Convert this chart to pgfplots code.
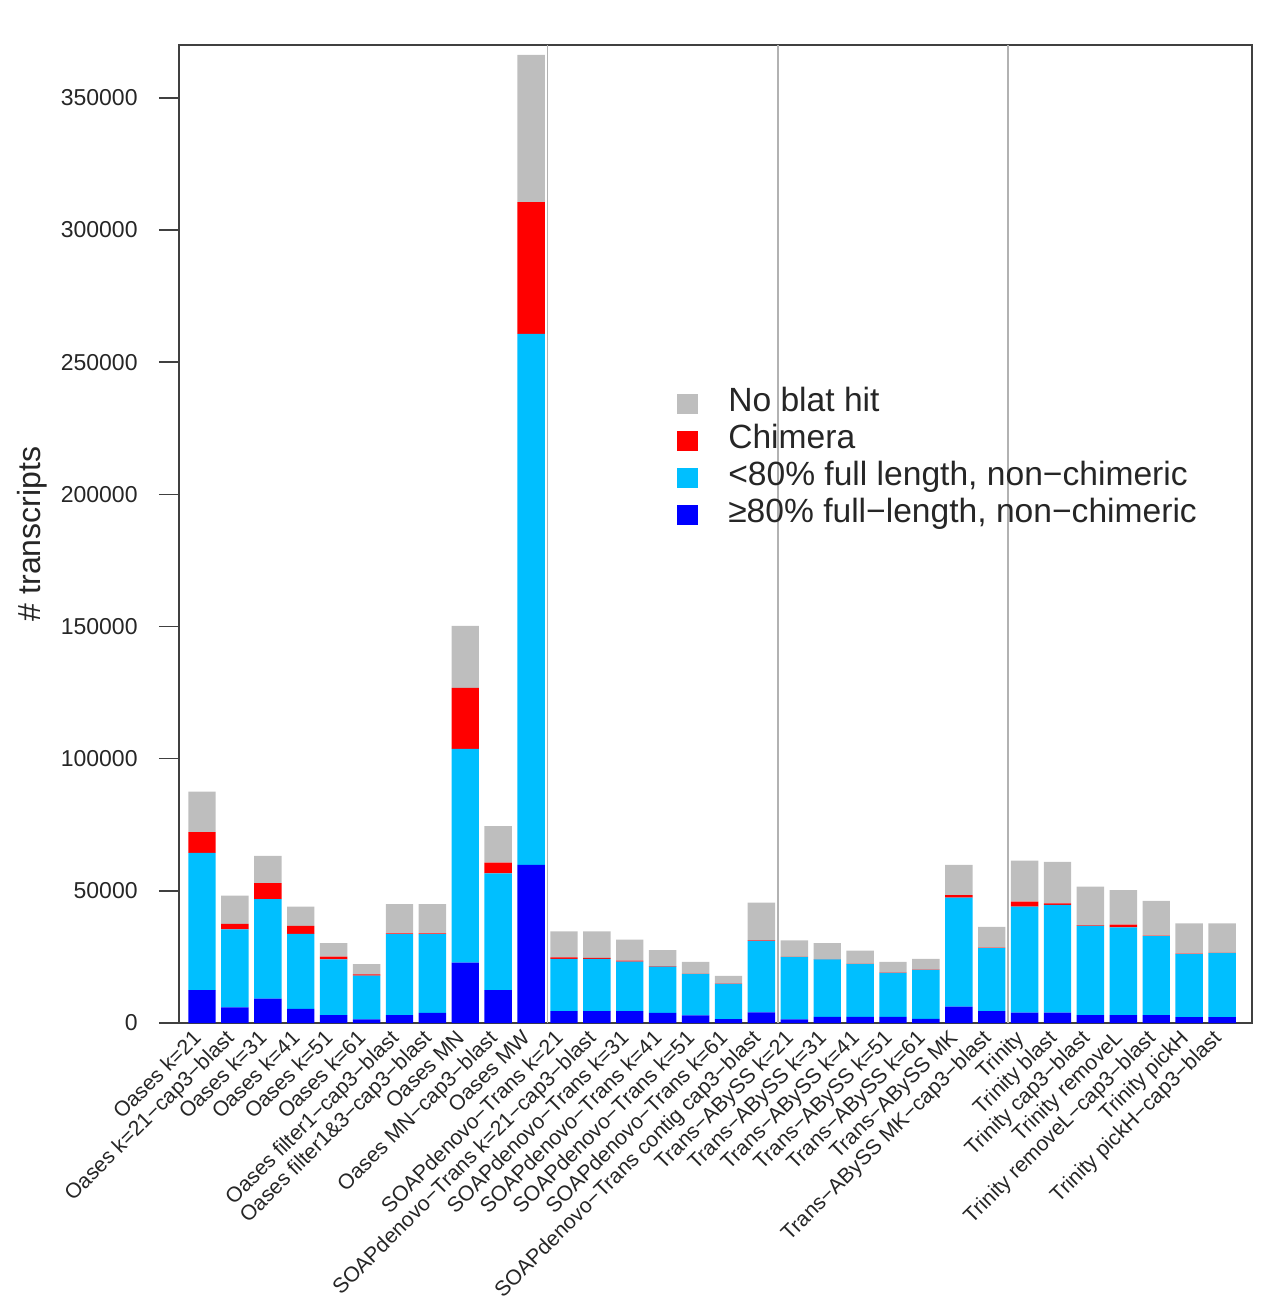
\documentclass[border=0pt]{standalone}
\usepackage{pgfplots}
\pgfplotsset{compat=1.18}
\usepackage{pgfplotstable}
\usepackage{fontspec}
\setmainfont{Liberation Sans}
\definecolor{cNB}{HTML}{BEBEBE}
\definecolor{cCH}{HTML}{FF0000}
\definecolor{cLB}{HTML}{00BFFF}
\definecolor{cDB}{HTML}{0000FF}
\pgfplotstableread{
x db lb ch nb
0 12400 52000 7800 15300
1 5900 29500 2100 10700
2 9200 37700 6000 10300
3 5300 28400 3000 7300
4 3000 21100 1000 5100
5 1400 16500 500 3900
6 3000 30600 300 11100
7 3800 29800 300 11100
8 22800 80900 23100 23400
9 12400 44200 4100 13800
10 59800 200900 49900 55700
11 4500 19800 500 9900
12 4500 19800 300 10100
13 4500 18700 400 7900
14 3800 17500 200 6100
15 2900 15600 100 4500
16 1500 13300 100 2900
17 4000 27100 200 14200
18 1400 23500 100 6300
19 2300 21800 100 6000
20 2300 20000 100 5000
21 2300 16700 100 4000
22 1600 18500 100 4100
23 6200 41200 1000 11400
24 4500 23800 200 7900
25 3900 40100 1900 15500
26 3900 40800 600 15700
27 3000 33700 200 14700
28 3000 33200 1000 13100
29 3000 29900 200 13100
30 2200 23900 100 11500
31 2200 24200 100 11200
}\data
\begin{document}
\begin{tikzpicture}
\path[use as bounding box] (0,0) rectangle (630.5pt,651.5pt);
\begin{axis}[
  at={(89.5pt,140pt)}, anchor=south west,
  width=536.5pt, height=489pt, scale only axis,
  ybar stacked, bar width=0.833,
  xmin=-0.70, xmax=31.91, ymin=0, ymax=370000,
  axis line style={black!75, line width=0.8pt},
  tick align=outside, major tick length=10pt,
  tick style={black!75, line width=0.8pt},
  xtick={0,...,31},
  xtick style={draw=none},
  xticklabels={{Oases k=21},{Oases k=21−cap3−blast},{Oases k=31},{Oases k=41},{Oases k=51},{Oases k=61},{Oases filter1−cap3−blast},{Oases filter1\&3−cap3−blast},{Oases MN},{Oases MN−cap3−blast},{Oases MW},{SOAPdenovo−Trans k=21},{SOAPdenovo−Trans k=21−cap3−blast},{SOAPdenovo−Trans k=31},{SOAPdenovo−Trans k=41},{SOAPdenovo−Trans k=51},{SOAPdenovo−Trans k=61},{SOAPdenovo−Trans contig cap3−blast},{Trans−ABySS k=21},{Trans−ABySS k=31},{Trans−ABySS k=41},{Trans−ABySS k=51},{Trans−ABySS k=61},{Trans−ABySS MK},{Trans−ABySS MK−cap3−blast},{Trinity},{Trinity blast},{Trinity cap3−blast},{Trinity removeL},{Trinity removeL−cap3−blast},{Trinity pickH},{Trinity pickH−cap3−blast}},
  x tick label style={rotate=45, anchor=north east, inner sep=0pt, xshift=1.5pt, yshift=9pt, font=\fontsize{10.6}{12}\selectfont, text=black!85},
  ytick={0,50000,100000,150000,200000,250000,300000,350000},
  ytick pos=left, xtick pos=bottom,
  scaled y ticks=false,
  yticklabel style={/pgf/number format/fixed, /pgf/number format/1000 sep={}, /pgf/number format/assume math mode=true, anchor=east, inner sep=0pt, xshift=-10.5pt, font=\fontsize{11.5}{13}\selectfont, text=black!85},
  extra x ticks={10.5,17.5,24.5},
  extra x tick labels={},
  extra x tick style={grid=major, major grid style={black!30, line width=0.7pt}, xtick style={draw=none}},
  ylabel={\# transcripts},
  every axis y label/.style={at={(axis description cs:-0.137,0.5)}, rotate=90, anchor=center, font=\fontsize{16}{18}\selectfont, text=black!85},
  reverse legend,
  legend style={draw=none, fill=none, at={(0.464,0.649)}, anchor=north west, inner sep=0pt, font=\fontsize{16.8}{19}\selectfont, text=black!85, row sep=3.5pt, nodes={text height=11.5pt, text depth=3.5pt, inner sep=0pt}, column sep=0pt, /tikz/every odd column/.append style={column sep=15pt}},
  legend cell align=left,
  legend image code/.code={\fill[#1] (0pt,-5pt) rectangle (10.5pt,5pt);},
]
\addplot[fill=cDB, draw=none] table[x=x, y=db] {\data};
\addplot[fill=cLB, draw=none] table[x=x, y=lb] {\data};
\addplot[fill=cCH, draw=none] table[x=x, y=ch] {\data};
\addplot[fill=cNB, draw=none] table[x=x, y=nb] {\data};
\legend{{≥80\% full−length, non−chimeric},{<80\% full length, non−chimeric},{Chimera},{No blat hit}}
\end{axis}
\end{tikzpicture}
\end{document}
